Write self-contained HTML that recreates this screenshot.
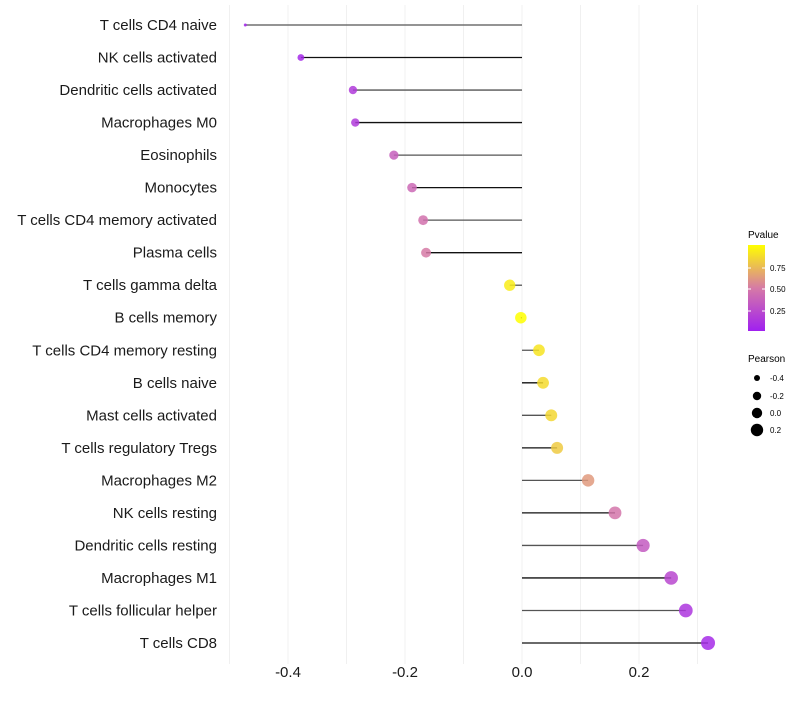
<!DOCTYPE html>
<html><head><meta charset="utf-8"><style>
body{margin:0;background:#fff;font-family:"Liberation Sans",sans-serif;}
svg text{font-family:"Liberation Sans",sans-serif;}
</style></head><body>
<svg id="chart" width="800" height="700" xmlns="http://www.w3.org/2000/svg">
<defs>
<linearGradient id="pgrad" x1="0" y1="1" x2="0" y2="0">
<stop offset="0" stop-color="#A020F0"/><stop offset="0.5" stop-color="#D67AA6"/><stop offset="1" stop-color="#FFFF00"/>
</linearGradient>
</defs>
<g id="grid"></g>
<g id="marks"></g>
<g id="ylabels"></g>
<g id="xlabels"></g>
<g>
<text x="748" y="238" font-size="10" fill="#000">Pvalue</text>
<rect x="748" y="245" width="17" height="86" fill="url(#pgrad)"/>
<line x1="748" y1="268" x2="751" y2="268" stroke="#fff"/><line x1="762" y1="268" x2="765" y2="268" stroke="#fff"/>
<line x1="748" y1="289" x2="751" y2="289" stroke="#fff"/><line x1="762" y1="289" x2="765" y2="289" stroke="#fff"/>
<line x1="748" y1="311" x2="751" y2="311" stroke="#fff"/><line x1="762" y1="311" x2="765" y2="311" stroke="#fff"/>
<text x="770" y="271" font-size="8">0.75</text>
<text x="770" y="292" font-size="8">0.50</text>
<text x="770" y="314" font-size="8">0.25</text>
</g>
<g>
<text x="748" y="362" font-size="10">Pearson</text>
<circle cx="757" cy="378" r="3" fill="#000"/><text x="770" y="381" font-size="8">-0.4</text>
<circle cx="757" cy="396" r="4.2" fill="#000"/><text x="770" y="399" font-size="8">-0.2</text>
<circle cx="757" cy="413" r="5.2" fill="#000"/><text x="770" y="416" font-size="8">0.0</text>
<circle cx="757" cy="430" r="6.2" fill="#000"/><text x="770" y="433" font-size="8">0.2</text>
</g>
</svg>
<script>
const categories=["T cells CD4 naive","NK cells activated","Dendritic cells activated","Macrophages M0","Eosinophils","Monocytes","T cells CD4 memory activated","Plasma cells","T cells gamma delta","B cells memory","T cells CD4 memory resting","B cells naive","Mast cells activated","T cells regulatory  Tregs ","Macrophages M2","NK cells resting","Dendritic cells resting","Macrophages M1","T cells follicular helper","T cells CD8"];
const pearson=[-0.473,-0.378,-0.289,-0.285,-0.219,-0.188,-0.169,-0.164,-0.021,-0.002,0.029,0.036,0.050,0.060,0.113,0.159,0.207,0.255,0.280,0.318];
const pvalue=[0.03,0.05,0.15,0.15,0.35,0.40,0.45,0.50,0.93,1.0,0.90,0.86,0.85,0.80,0.62,0.47,0.32,0.22,0.12,0.06];
const xTicks=[-0.4,-0.2,0.0,0.2];
const xTickLabels=["-0.4","-0.2","0.0","0.2"];
const gridVals=[-0.5,-0.4,-0.3,-0.2,-0.1,0,0.1,0.2,0.3];
const NS="http://www.w3.org/2000/svg";
function xs(v){return 522+v*585;}
function ys(i){return 25+i*(618/19);}
function lerp(a,b,t){return a+(b-a)*t;}
function col(p){const s=[[0,[160,32,240]],[0.5,[214,122,166]],[1,[255,255,0]]];p=Math.max(0,Math.min(1,p));
let a=s[0],b=s[1];if(p>0.5){a=s[1];b=s[2];}const t=(p-a[0])/(b[0]-a[0]);
return "rgb("+[0,1,2].map(k=>Math.round(lerp(a[1][k],b[1][k],t))).join(",")+")";}
function rad(v){const mn=-0.473,mx=0.318;return 1.5+5.5*Math.sqrt(Math.max(0,(v-mn)/(mx-mn)));}
function mk(t,attrs,parent){const e=document.createElementNS(NS,t);for(const k in attrs)e.setAttribute(k,attrs[k]);parent.appendChild(e);return e;}
const grid=document.getElementById('grid'),marks=document.getElementById('marks'),yl=document.getElementById('ylabels'),xl=document.getElementById('xlabels');
gridVals.forEach(g=>{const l=mk('line',{x1:xs(g),x2:xs(g),y1:5,y2:664,stroke:'#f0f0f0','stroke-width':1},grid);

});
categories.forEach((c,i)=>{const y=ys(i);
const t=mk('text',{x:217,y:y+5,'text-anchor':'end','font-size':15,fill:'#1a1a1a'},yl);t.textContent=c;


const ln=mk('line',{x1:xs(0),x2:xs(pearson[i]),y1:y,y2:y,stroke:i%2?'#111':'#555','stroke-width':1.3},marks);


const ci=mk('circle',{cx:xs(pearson[i]),cy:y,r:rad(pearson[i]),fill:col(pvalue[i]),'fill-opacity':0.85},marks);

});
xTicks.forEach((v,i)=>{const t=mk('text',{x:xs(v),y:677,'text-anchor':'middle','font-size':15,fill:'#1a1a1a'},xl);t.textContent=xTickLabels[i];

});
</script>
</body></html>
